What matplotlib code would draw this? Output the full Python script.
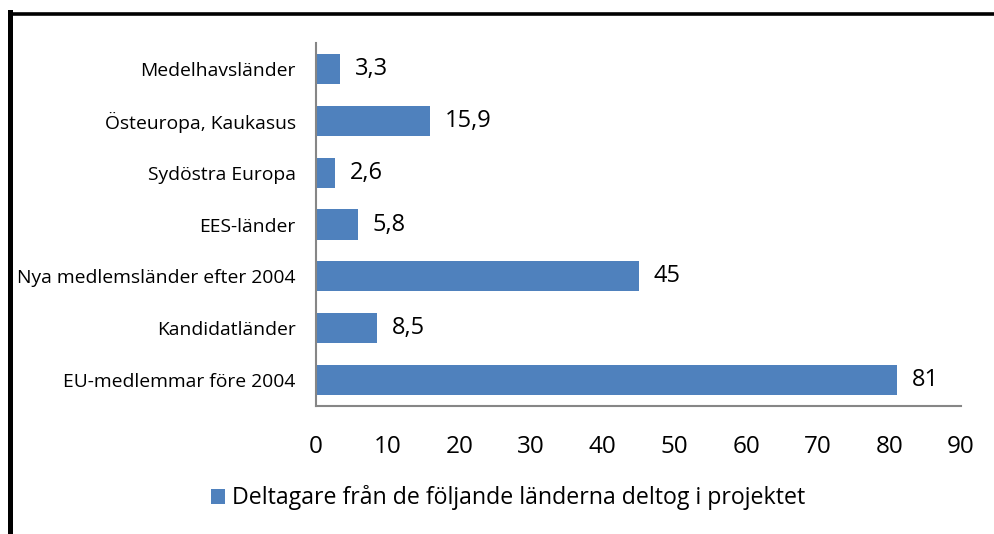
"""Horizontal bar chart — participants by country group."""

import matplotlib
matplotlib.use("Agg")
import matplotlib.pyplot as plt
from matplotlib.lines import Line2D

# ---------------------------------------------------------------------------
# Data (bottom → top as drawn)
# ---------------------------------------------------------------------------
categories = [
    "EU-medlemmar före 2004",
    "Kandidatländer",
    "Nya medlemsländer efter 2004",
    "EES-länder",
    "Sydöstra Europa",
    "Östeuropa, Kaukasus",
    "Medelhavsländer",
]
values = [81, 8.5, 45, 5.8, 2.6, 15.9, 3.3]
series_name = "Deltagare från de följande länderna deltog i projektet"
xticks = list(range(0, 100, 10))

BAR = "#4F81BD"
AXIS = "#868686"
FONT = "Open Sans"

plt.rcParams["font.family"] = [FONT, "DejaVu Sans"]

fig = plt.figure(figsize=(9.94, 5.34), dpi=100)
ax = fig.add_axes([316 / 994, 1 - 406 / 534, (961 - 316) / 994, (406 - 43) / 534])

y = range(len(categories))
bars = ax.barh(y, values, height=0.58, color=BAR, label=series_name)

ax.set_xlim(0, 90)
ax.set_ylim(-0.5, len(categories) - 0.5)
ax.set_xticks(xticks)
ax.set_xticklabels([str(t) for t in xticks], fontsize=17.5)
ax.set_yticks(list(y))
ax.set_yticklabels(categories, fontsize=13.9)
ax.tick_params(axis="both", length=0)
ax.tick_params(axis="x", pad=21)
ax.tick_params(axis="y", pad=14.5)

for side in ("top", "right"):
    ax.spines[side].set_visible(False)
for side in ("left", "bottom"):
    ax.spines[side].set_color(AXIS)
    ax.spines[side].set_linewidth(1.5)

# value labels with decimal comma
for bar, v in zip(bars, values):
    txt = f"{v:g}".replace(".", ",")
    ax.annotate(txt, (bar.get_width(), bar.get_y() + bar.get_height() / 2),
                xytext=(11, 0), textcoords="offset points",
                va="center", ha="left", fontsize=17)

leg = fig.legend(handles=[bars], labels=[series_name], loc="center",
                 bbox_to_anchor=(508 / 994, 1 - 498 / 534), frameon=False,
                 fontsize=16.7, handlelength=0.6, handleheight=0.6,
                 handletextpad=0.3)

# outer frame (only top and left edges visible in the original)
fig.add_artist(Line2D([9.5 / 994, 1.0], [1 - 13.5 / 534] * 2,
                      transform=fig.transFigure, color="black", lw=2.6))
fig.add_artist(Line2D([9.5 / 994] * 2, [0.0, 1 - 12 / 534],
                      transform=fig.transFigure, color="black", lw=3.6))

fig.savefig("out.png", dpi=100)
plt.close(fig)
